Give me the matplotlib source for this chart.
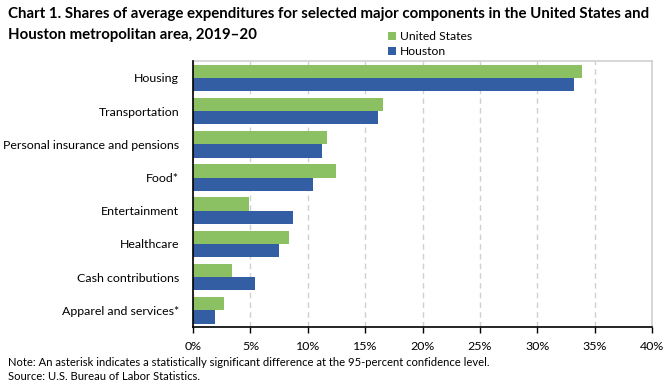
import matplotlib
matplotlib.use("Agg")
import matplotlib.pyplot as plt
import numpy as np
from matplotlib.ticker import FuncFormatter

plt.rcParams["font.family"] = ["Lato", "DejaVu Sans"]

categories = [
    "Housing",
    "Transportation",
    "Personal insurance and pensions",
    "Food*",
    "Entertainment",
    "Healthcare",
    "Cash contributions",
    "Apparel and services*",
]
united_states = [33.9, 16.6, 11.7, 12.5, 4.9, 8.4, 3.4, 2.7]
houston = [33.2, 16.1, 11.2, 10.5, 8.7, 7.5, 5.4, 1.9]
x_ticks = [0, 5, 10, 15, 20, 25, 30, 35, 40]

GREEN = "#8BC063"
BLUE = "#345EA3"

fig = plt.figure(figsize=(6.72, 3.85), dpi=100)
ax = fig.add_axes([193 / 672, 58 / 385, 459 / 672, 265.7 / 385])

y = np.arange(len(categories))
height = 0.4
ax.barh(y - height / 2, united_states, height, color=GREEN, label="United States", zorder=3)
ax.barh(y + height / 2, houston, height, color=BLUE, label="Houston", zorder=3)

ax.set_ylim(len(categories) - 0.5, -0.5)
ax.set_yticks(y)
ax.set_yticklabels(categories, fontsize=8.9)
ax.tick_params(axis="y", length=0, pad=10)

ax.set_xlim(0, 40)
ax.set_xticks(x_ticks)
ax.xaxis.set_major_formatter(FuncFormatter(lambda v, _: f"{v:.0f}%"))
ax.tick_params(axis="x", labelsize=8.9, length=4, width=1, direction="out", pad=6)

ax.grid(axis="x", color="#D0D0D0", linestyle=(0, (4, 3)), linewidth=1, zorder=0)
for side in ("top", "right"):
    ax.spines[side].set_color("#D0D0D0")
    ax.spines[side].set_linewidth(1.2)
for side in ("left", "bottom"):
    ax.spines[side].set_color("black")
    ax.spines[side].set_linewidth(1.2)
ax.spines["left"].set_zorder(4)

fig.text(8 / 672, 1 - 14 / 385,
         "Chart 1. Shares of average expenditures for selected major components in the United States and",
         fontsize=10.8, fontweight="bold", va="center", ha="left")
fig.text(8 / 672, 1 - 35 / 385, "Houston metropolitan area, 2019\u201320",
         fontsize=10.8, fontweight="bold", va="center", ha="left")

fig.legend(loc="upper left", bbox_to_anchor=(388 / 672, 1 - 31 / 385), frameon=False,
           fontsize=8.7, handlelength=0.7, handleheight=0.7, handletextpad=0.3,
           labelspacing=0.35, borderpad=0, borderaxespad=0)

fig.text(8 / 672, 1 - 362 / 385,
         "Note: An asterisk indicates a statistically significant difference at the 95-percent confidence level.",
         fontsize=8.1, va="center", ha="left")
fig.text(8 / 672, 1 - 377 / 385, "Source: U.S. Bureau of Labor Statistics.",
         fontsize=8.1, va="center", ha="left")

fig.savefig("out.png", dpi=100)
